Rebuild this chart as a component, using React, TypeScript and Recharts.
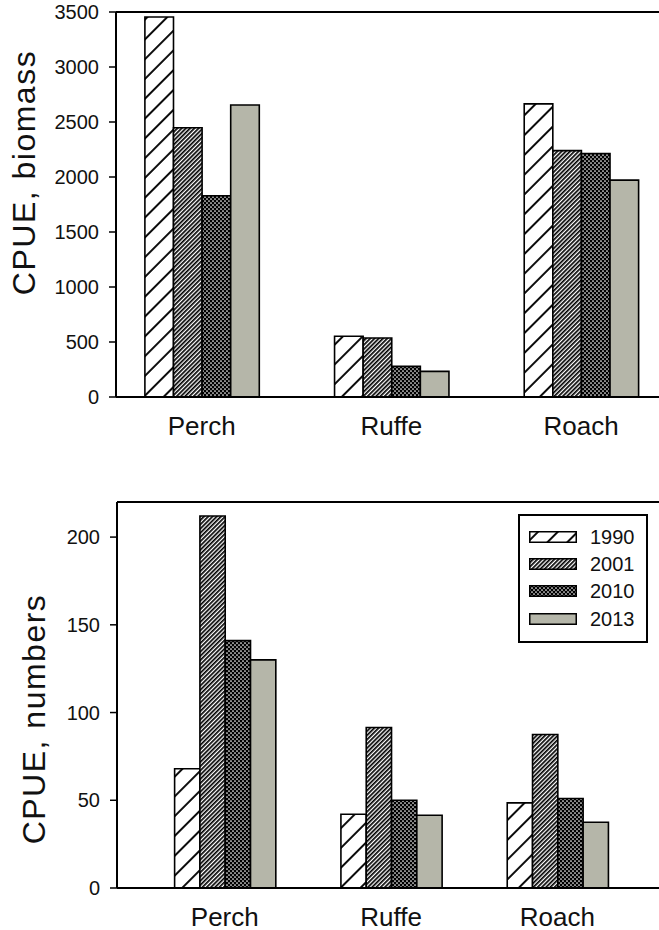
import React from 'react';
import { BarChart, Bar, XAxis, YAxis, ReferenceLine } from 'recharts';

const categories = ['Perch', 'Ruffe', 'Roach'];
const years = ['1990', '2001', '2010', '2013'];

const biomass1990 = [3455, 552, 2665];
const biomass2001 = [2448, 536, 2240];
const biomass2010 = [1830, 278, 2213];
const biomass2013 = [2655, 233, 1972];
const biomassTicks = [0, 500, 1000, 1500, 2000, 2500, 3000, 3500];

const numbers1990 = [68, 42, 48.5];
const numbers2001 = [212, 91.5, 87.5];
const numbers2010 = [141, 50, 51];
const numbers2013 = [130, 41.5, 37.5];
const numbersTicks = [0, 50, 100, 150, 200];

const FILLS = ['url(#hatch1990)', 'url(#hatch2001)', 'url(#dots2010)', '#b5b6a9'];
const FONT = '"Liberation Sans", Arial, sans-serif';

const buildRows = (series: number[][]) =>
  categories.map((name, i) => {
    const row: Record<string, number | string> = { x: i + 1, name };
    years.forEach((y, k) => {
      row['y' + y] = series[k][i];
    });
    return row;
  });

const biomassData = buildRows([biomass1990, biomass2001, biomass2010, biomass2013]);
const numbersData = buildRows([numbers1990, numbers2001, numbers2010, numbers2013]);

function Patterns() {
  return (
    <svg width={0} height={0} style={{ position: 'absolute' }}>
      <defs>
        <pattern id="hatch1990" patternUnits="userSpaceOnUse" width={14} height={14} patternTransform="rotate(45)">
          <rect width={14} height={14} fill="#fff" />
          <line x1={7} y1={0} x2={7} y2={14} stroke="#000" strokeWidth={1.9} />
        </pattern>
        <pattern id="hatch2001" patternUnits="userSpaceOnUse" width={3} height={3} patternTransform="rotate(45)">
          <rect width={3} height={3} fill="#fff" />
          <rect x={0} y={0} width={1.7} height={3} fill="#000" />
        </pattern>
        <pattern id="dots2010" patternUnits="userSpaceOnUse" width={4} height={4}>
          <rect width={4} height={4} fill="#000" />
          <circle cx={1} cy={1} r={0.85} fill="#fff" />
          <circle cx={3} cy={3} r={0.85} fill="#fff" />
        </pattern>
      </defs>
    </svg>
  );
}

interface PanelProps {
  data: Record<string, number | string>[];
  height: number;
  top: number;
  bottom: number;
  yAxisWidth: number;
  yMax: number;
  yTicks: number[];
  yLabel: string;
  labelDx: number;
  labelDy: number;
  xDomain: [number, number];
  barSize: number;
}

function Panel(p: PanelProps) {
  return (
    <BarChart
      width={651}
      height={p.height}
      data={p.data}
      margin={{ top: p.top, right: 0, bottom: p.bottom, left: 0 }}
      barGap={0}
    >
      <XAxis
        dataKey="x"
        type="number"
        domain={p.xDomain}
        ticks={[1, 2, 3]}
        interval={0}
        allowDataOverflow
        tickFormatter={(v: number) => categories[v - 1]}
        tickLine={false}
        tickSize={0}
        tickMargin={20}
        height={40}
        axisLine={{ stroke: '#000', strokeWidth: 2 }}
        tick={{ fontSize: 26, fill: '#111', fontFamily: FONT }}
      />
      <YAxis
        width={p.yAxisWidth}
        domain={[0, p.yMax]}
        ticks={p.yTicks}
        interval={0}
        allowDataOverflow
        tickSize={7}
        tickMargin={10}
        axisLine={{ stroke: '#000', strokeWidth: 2 }}
        tickLine={{ stroke: '#000', strokeWidth: 1.5 }}
        tick={{ fontSize: 20, fill: '#111', fontFamily: FONT }}
        label={{
          value: p.yLabel,
          angle: -90,
          position: 'center',
          dx: p.labelDx,
          dy: p.labelDy,
          style: { fontSize: 32, letterSpacing: 1.5, fill: '#111', fontFamily: FONT, textAnchor: 'middle' },
        }}
      />
      <ReferenceLine y={p.yMax} stroke="#000" strokeWidth={2} />
      {years.map((y, k) => (
        <Bar
          key={y}
          dataKey={'y' + y}
          name={y}
          fill={FILLS[k]}
          stroke="#000"
          strokeWidth={1.6}
          barSize={p.barSize}
          isAnimationActive={false}
        />
      ))}
    </BarChart>
  );
}

function LegendBox() {
  return (
    <div
      style={{
        position: 'absolute',
        left: 518,
        top: 514,
        width: 130,
        height: 129,
        boxSizing: 'border-box',
        border: '2px solid #000',
        paddingTop: 7,
        background: '#fff',
        fontFamily: FONT,
      }}
    >
      {years.map((y, k) => (
        <div key={y} style={{ display: 'flex', alignItems: 'center', height: 27.3, paddingLeft: 9 }}>
          <svg width={48} height={12} style={{ display: 'block' }}>
            <rect x={0.75} y={0.75} width={46.5} height={10.5} fill={FILLS[k]} stroke="#000" strokeWidth={1.5} />
          </svg>
          <span style={{ marginLeft: 13, fontSize: 20, color: '#111', lineHeight: '20px' }}>{y}</span>
        </div>
      ))}
    </div>
  );
}

export default function App() {
  return (
    <div style={{ position: 'relative', width: 659, height: 930, padding: 8, boxSizing: 'border-box' }}>
      <style>{'body{margin:0;overflow:hidden}.recharts-surface{overflow:visible}'}</style>
      <Patterns />
      <Panel
        data={biomassData}
        height={470}
        top={4}
        bottom={41}
        yAxisWidth={108}
        yMax={3500}
        yTicks={biomassTicks}
        yLabel="CPUE, biomass"
        labelDx={-38}
        labelDy={-32}
        xDomain={[0.548, 3.411]}
        barSize={28.6}
      />
      <Panel
        data={numbersData}
        height={452}
        top={24}
        bottom={2}
        yAxisWidth={109}
        yMax={220}
        yTicks={numbersTicks}
        yLabel="CPUE, numbers"
        labelDx={-29}
        labelDy={24}
        xDomain={[0.352, 3.611]}
        barSize={25.3}
      />
      <LegendBox />
    </div>
  );
}
